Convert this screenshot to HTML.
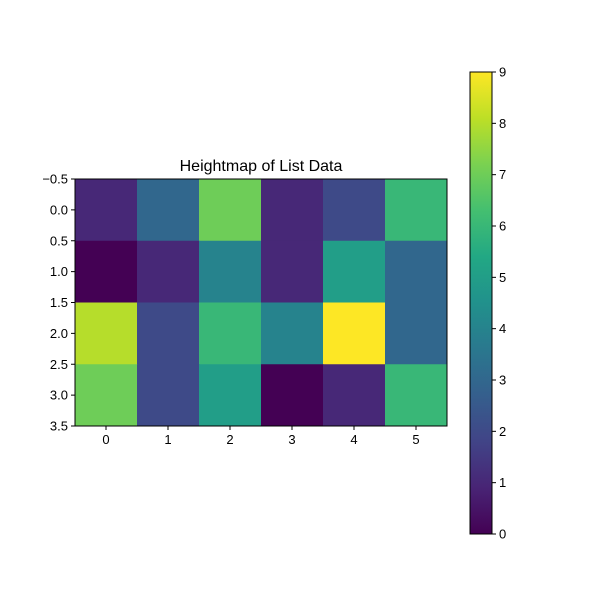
<!DOCTYPE html>
<html><head><meta charset="utf-8"><style>body{margin:0;background:#fff}svg{display:block}text{font-family:"Liberation Sans","DejaVu Sans",sans-serif;fill:#000}</style></head>
<body>
<svg id="c" width="600" height="600" xmlns="http://www.w3.org/2000/svg"></svg>
<script>
const rowsData = [
  [1, 3, 7, 1, 2, 6],
  [0, 1, 4, 1, 5, 3],
  [8, 2, 6, 4, 9, 3],
  [7, 2, 5, 0, 1, 6]
];
const xTicks = [0, 1, 2, 3, 4, 5];
const yTicks = [-0.5, 0.0, 0.5, 1.0, 1.5, 2.0, 2.5, 3.0, 3.5];
const cbTicks = [0, 1, 2, 3, 4, 5, 6, 7, 8, 9];
const vmin = 0, vmax = 9;
const viridis = ["#440154","#482475","#414487","#355f8d","#2a788e","#21918c","#22a884","#44bf70","#7ad151","#bddf26","#fde725"];
function hex(c){return [1,3,5].map(i=>parseInt(c.substr(i,2),16));}
function cmap(t){t=Math.max(0,Math.min(1,t));const p=t*10,i=Math.min(9,Math.floor(p)),f=p-i;const a=hex(viridis[i]),b=hex(viridis[i+1]);return "rgb("+a.map((v,k)=>Math.round(v+(b[k]-v)*f)).join(",")+")";}
const svg=document.getElementById('c'),NS="http://www.w3.org/2000/svg";
function el(t,a,p){const e=document.createElementNS(NS,t);for(const k in a)e.setAttribute(k,a[k]);(p||svg).appendChild(e);return e;}
const L=75,R=447,T=179,B=426;
const nC=rowsData[0].length,nR=rowsData.length;
const xs=v=>L+(v+0.5)*(R-L)/nC;
const ys=v=>T+(v+0.5)*(B-T)/nR;
rowsData.forEach((row,r)=>row.forEach((v,c)=>{
  const e=el('rect',{x:xs(c-0.5),y:ys(r-0.5),width:xs(c+0.5)-xs(c-0.5)+0.5,height:ys(r+0.5)-ys(r-0.5)+0.5,fill:cmap((v-vmin)/(vmax-vmin))});
  
  
}));
const frame=el('rect',{x:L,y:T,width:R-L,height:B-T,fill:'none',stroke:'#000','stroke-width':1});

xTicks.forEach(v=>{const x=xs(v);el('line',{x1:x,x2:x,y1:B,y2:B+4,stroke:'#000'});
  const t=el('text',{x:x,y:B+18,'text-anchor':'middle','font-size':13});t.textContent=v;
  });
yTicks.forEach(v=>{const y=ys(v);el('line',{x1:L-4,x2:L,y1:y,y2:y,stroke:'#000'});
  const t=el('text',{x:L-7,y:y+4.5,'text-anchor':'end','font-size':13});t.textContent=(v<0?'\u2212':'')+Math.abs(v).toFixed(1);
  });
const title=el('text',{x:(L+R)/2,y:171,'text-anchor':'middle','font-size':16});title.textContent='Heightmap of List Data';

// colorbar
const CL=470,CR=492,CT=72,CB=534;
const defs=el('defs',{});const g=el('linearGradient',{id:'vg',x1:0,y1:1,x2:0,y2:0},defs);
viridis.forEach((c,i)=>el('stop',{offset:(i/10),'stop-color':c},g));
const cb=el('rect',{x:CL,y:CT,width:CR-CL,height:CB-CT,fill:'url(#vg)',stroke:'#000'});

const cy=v=>CB-(v-vmin)/(vmax-vmin)*(CB-CT);
cbTicks.forEach(v=>{const y=cy(v);el('line',{x1:CR,x2:CR+4,y1:y,y2:y,stroke:'#000'});
  const t=el('text',{x:CR+7,y:y+4.5,'font-size':13});t.textContent=v;
  });
</script>
</body></html>
